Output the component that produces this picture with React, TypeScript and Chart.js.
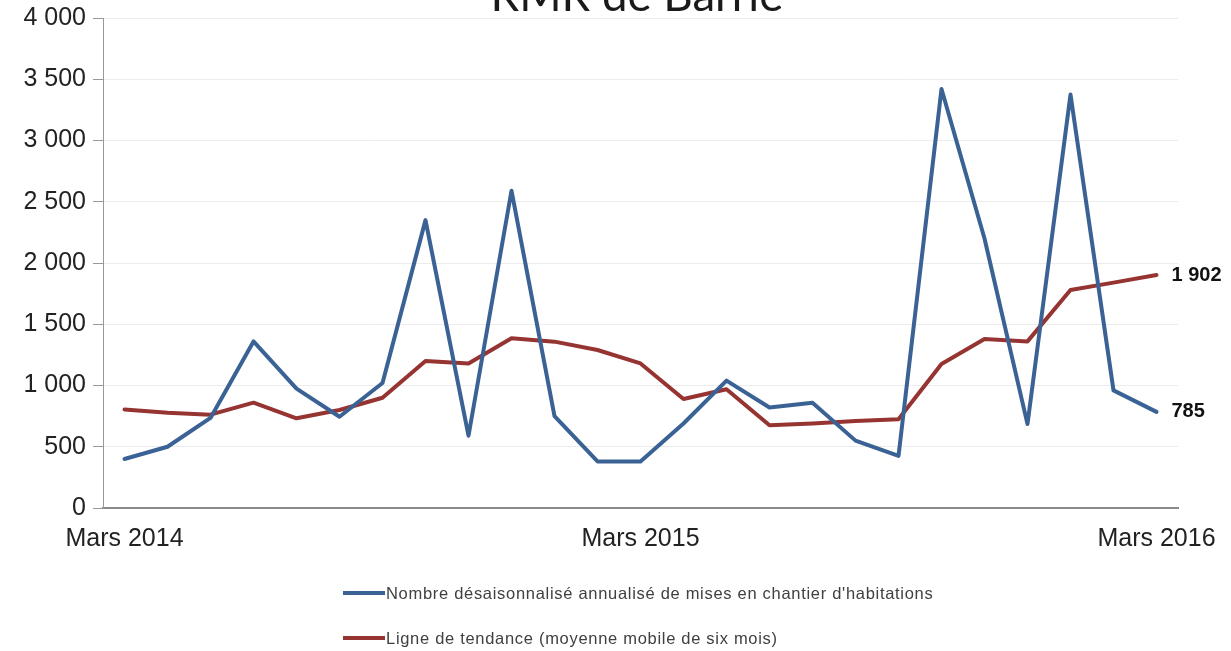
import React, { useEffect, useRef } from "react";
import { Chart, registerables } from "chart.js";

Chart.register(...registerables);

const TITLE = "RMR de Barrie";

const categories = [
  "Mars 2014", "Avr 2014", "Mai 2014", "Juin 2014", "Juil 2014", "Août 2014",
  "Sept 2014", "Oct 2014", "Nov 2014", "Déc 2014", "Janv 2015", "Févr 2015",
  "Mars 2015", "Avr 2015", "Mai 2015", "Juin 2015", "Juil 2015", "Août 2015",
  "Sept 2015", "Oct 2015", "Nov 2015", "Déc 2015", "Janv 2016", "Févr 2016",
  "Mars 2016",
];

const tickLabels = ["Mars 2014", "Mars 2015", "Mars 2016"];

const seriesNames = [
  "Nombre désaisonnalisé annualisé de mises en chantier d'habitations",
  "Ligne de tendance (moyenne mobile de six mois)",
];

const seriesColors = ["#3a6294", "#963432"];

const startsValues = [
  400, 500, 735, 1360, 975, 745, 1020, 2350, 590, 2590, 750, 380,
  380, 690, 1040, 820, 860, 550, 425, 3420, 2200, 685, 3375, 960, 785,
];

const trendValues = [
  805, 778, 762, 860, 732, 800, 900, 1200, 1180, 1385, 1358, 1290,
  1180, 890, 970, 675, 690, 710, 725, 1176, 1380, 1360, 1780, 1840, 1902,
];

const yTicks = [0, 500, 1000, 1500, 2000, 2500, 3000, 3500, 4000];

const fmt = (v: number) =>
  String(Math.round(v)).replace(/\B(?=(\d{3})+(?!\d))/g, " ");

const titlePlugin = {
  id: "cutTitle",
  afterDraw(chart: any) {
    const ctx = chart.ctx;
    ctx.save();
    ctx.font = "100px Lato";
    const w100 = ctx.measureText(TITLE).width;
    const size = (100 * 293) / w100;
    ctx.font = `${size}px Lato`;
    ctx.fillStyle = "#1a1a1a";
    ctx.textAlign = "center";
    ctx.textBaseline = "alphabetic";
    ctx.fillText(TITLE, 637, 11);
    ctx.restore();
  },
};

const endLabelPlugin = {
  id: "endLabels",
  afterDatasetsDraw(chart: any) {
    const ctx = chart.ctx;
    ctx.save();
    ctx.font = "bold 20px 'Liberation Sans', Arial, sans-serif";
    ctx.fillStyle = "#111";
    ctx.textAlign = "left";
    ctx.textBaseline = "middle";
    chart.data.datasets.forEach((ds: any, i: number) => {
      const meta = chart.getDatasetMeta(i);
      const last = meta.data[meta.data.length - 1];
      const v = ds.data[ds.data.length - 1];
      ctx.fillText(fmt(v), last.x + 15, last.y);
    });
    ctx.restore();
  },
};

export default function App() {
  const ref = useRef<HTMLCanvasElement | null>(null);

  useEffect(() => {
    if (!ref.current) return;
    const chart = new Chart(ref.current, {
      type: "line",
      data: {
        labels: categories,
        datasets: [
          {
            label: seriesNames[0],
            data: startsValues,
            borderColor: seriesColors[0],
            backgroundColor: seriesColors[0],
            borderWidth: 4,
            borderJoinStyle: "round",
            borderCapStyle: "round",
            pointRadius: 0,
            tension: 0,
          },
          {
            label: seriesNames[1],
            data: trendValues,
            borderColor: seriesColors[1],
            backgroundColor: seriesColors[1],
            borderWidth: 4,
            borderJoinStyle: "round",
            borderCapStyle: "round",
            pointRadius: 0,
            tension: 0,
          },
        ],
      },
      options: {
        animation: false,
        responsive: false,
        layout: { padding: { top: 18, right: 53, bottom: 0, left: 0 } },
        plugins: {
          legend: { display: false },
          title: { display: false },
          tooltip: { enabled: false },
        },
        scales: {
          x: {
            type: "category",
            offset: true,
            grid: { display: false, drawTicks: false },
            border: { display: true, color: "#8a8a8a", width: 2 },
            ticks: {
              autoSkip: false,
              maxRotation: 0,
              minRotation: 0,
              padding: 16,
              color: "#222",
              font: { family: "'Liberation Sans', Arial, sans-serif", size: 25 },
              callback: function (this: any, _v: any, idx: number) {
                const lab = categories[idx];
                return tickLabels.includes(lab) ? lab : "";
              },
            },
            afterFit: (s: any) => {
              s.height = 143;
              s.paddingLeft = 0;
              s.paddingRight = 0;
            },
          },
          y: {
            min: 0,
            max: 4000,
            afterBuildTicks: (s: any) => {
              s.ticks = yTicks.map((v) => ({ value: v }));
            },
            grid: {
              color: "#ececec",
              tickColor: "#999",
              tickLength: 10,
              drawTicks: true,
            },
            border: { display: true, color: "#999", width: 1 },
            ticks: {
              padding: 7,
              color: "#222",
              font: { family: "'Liberation Sans', Arial, sans-serif", size: 25 },
              callback: (v: any) => fmt(Number(v)),
            },
            afterFit: (s: any) => {
              s.width = 103;
              s.paddingTop = 0;
              s.paddingBottom = 0;
            },
          },
        },
      },
      plugins: [titlePlugin, endLabelPlugin],
    });
    return () => chart.destroy();
  }, []);

  const legendRows = [593, 638];

  return (
    <div style={{ position: "absolute", left: 0, top: 0, width: 1231, height: 651, overflow: "hidden", background: "#fff" }}>
      <canvas ref={ref} width={1231} height={651} style={{ position: "absolute", left: 0, top: 0 }} />
      {seriesNames.map((name, i) => (
        <div
          key={name}
          style={{
            position: "absolute",
            left: 343,
            top: legendRows[i] - 12,
            height: 24,
            display: "flex",
            alignItems: "center",
            whiteSpace: "nowrap",
            fontFamily: "'Liberation Sans', Arial, sans-serif",
            fontSize: 16.5,
            letterSpacing: 0.7,
            color: "#404040",
          }}
        >
          <span style={{ display: "inline-block", width: 42, height: 4, background: seriesColors[i], marginRight: 1 }} />
          <span>{name}</span>
        </div>
      ))}
    </div>
  );
}
